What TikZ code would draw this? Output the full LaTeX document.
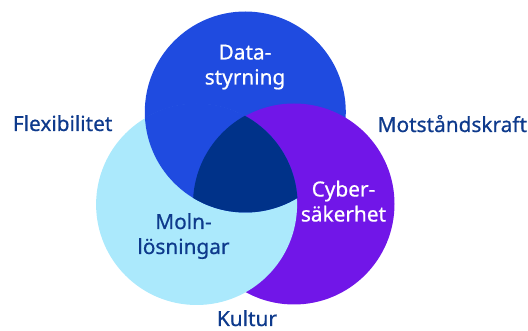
\documentclass[tikz,border=0pt]{standalone}
\usepackage{fontspec}
\setmainfont{Noto Sans}
\newfontfamily\vennfont{Noto Sans}[FakeBold=0.6]
\definecolor{cblue}{RGB}{31,75,224}
\definecolor{cpurple}{RGB}{113,22,232}
\definecolor{clight}{RGB}{171,233,252}
\definecolor{cnavy}{RGB}{0,50,137}
\definecolor{ctext}{RGB}{14,58,140}
\tikzset{
  venn/.style={circle, minimum size=201pt, inner sep=0pt, draw=none},
  lbl/.style={font=\vennfont\fontsize{20.8}{25}\selectfont, align=center, inner sep=0pt},
  outer/.style={font=\vennfont\fontsize{20.8}{25}\selectfont, text=ctext, inner sep=0pt, anchor=base west},
}
\begin{document}
\begin{tikzpicture}[x=1pt,y=-1pt]
\useasboundingbox (0,0) rectangle (528,331);
\node[venn, fill=cblue] (top) at (245.3,112) {};
\node[venn, fill=cpurple] (right) at (294,204) {};
\node[venn, fill=clight] (left) at (196.6,204.5) {};
\begin{scope}
  \clip (left.center) circle (101pt);
  \fill[cblue] (top.center) circle (100.5pt);
  \clip (right.center) circle (101pt);
  \fill[cnavy] (top.center) circle (100.5pt);
\end{scope}
\node[lbl, text=white, anchor=base] (data) at (245,84.5) {Data-\\styrning};
\node[lbl, text=white, anchor=base] (cyber) at (343.5,221.5) {Cyber-\\säkerhet};
\node[lbl, text=ctext, anchor=base] (moln) at (183.5,254) {Moln-\\lösningar};
\node[outer] (flex) at (12.7,131) {Flexibilitet};
\node[outer] (mot) at (377.5,132) {Motståndskraft};
\node[outer, anchor=base] (kultur) at (247,326) {Kultur};
\end{tikzpicture}
\end{document}
